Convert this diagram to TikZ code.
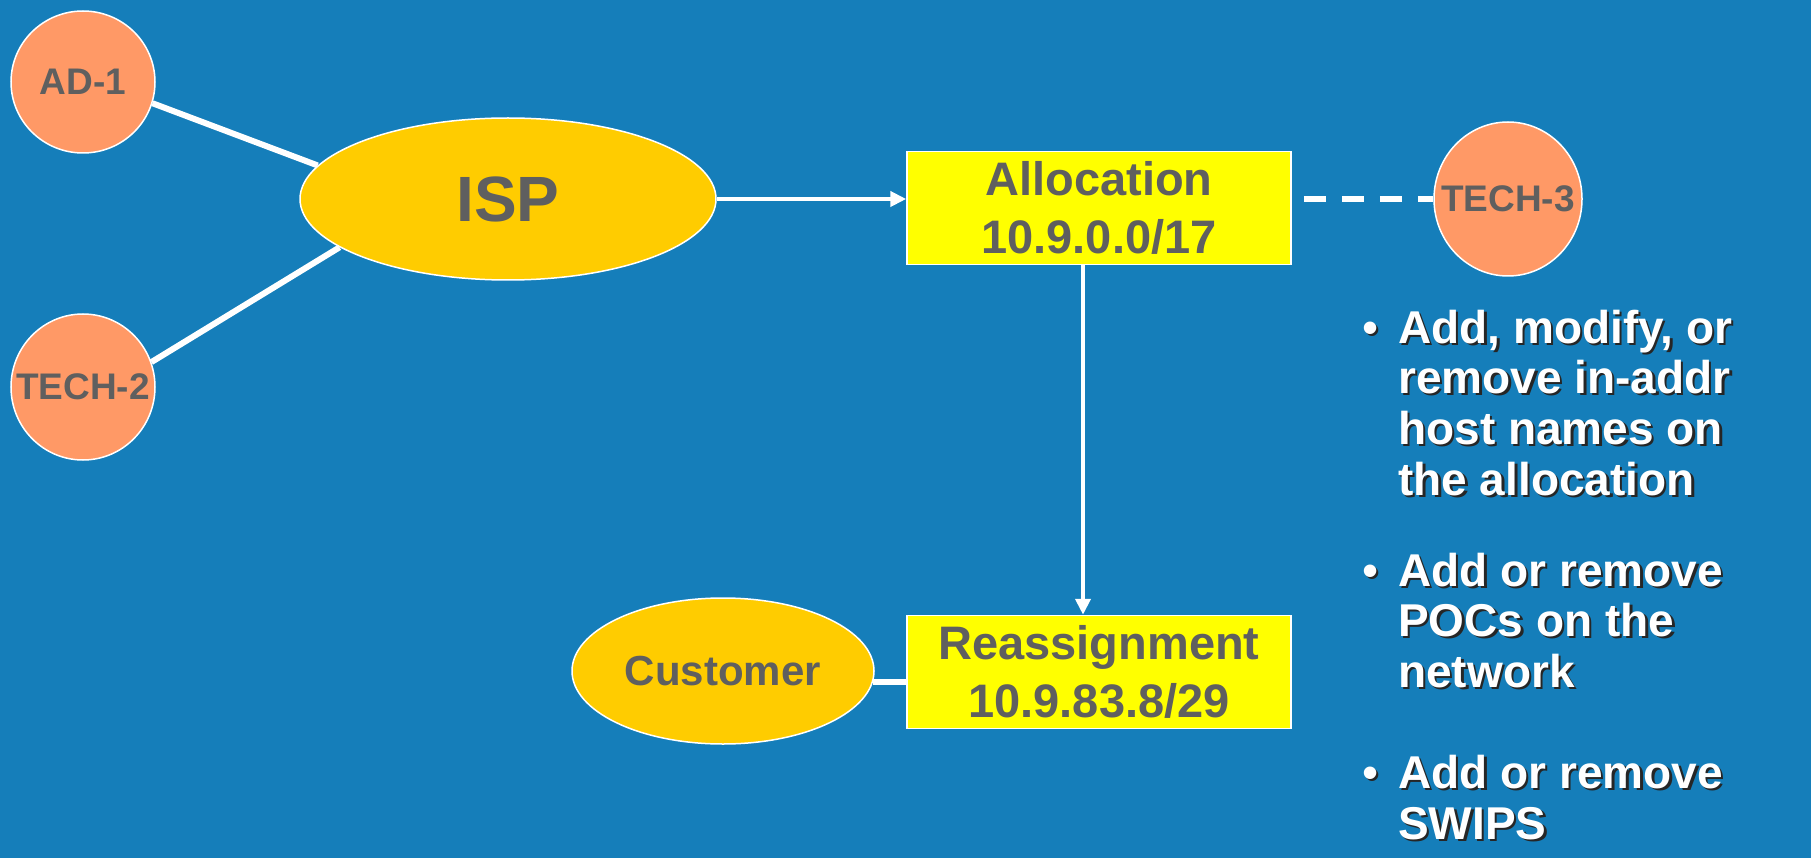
\documentclass[tikz,border=0pt]{standalone}
\usepackage{fontspec}
\setmainfont{Liberation Sans}
\usetikzlibrary{shapes.geometric,arrows.meta}
\definecolor{bgblue}{RGB}{21,126,186}
\definecolor{salmon}{RGB}{255,153,102}
\definecolor{gold}{RGB}{255,204,0}
\definecolor{yel}{RGB}{255,255,0}
\definecolor{txtgray}{RGB}{95,95,95}
\newcommand{\zw}[1]{\makebox[0pt][c]{#1}}
\begin{document}
\begin{tikzpicture}[x=1pt,y=-1pt,
  person/.style={ellipse, draw=white, line width=1.5pt, fill=salmon, inner sep=0pt,
    text=txtgray, font=\fontsize{37}{40}\selectfont\bfseries},
  org/.style={ellipse, draw=white, line width=1.5pt, fill=gold, inner sep=0pt, text=txtgray},
  netbox/.style={rectangle, draw=white, line width=1.5pt, fill=yel, inner sep=0pt,
    minimum width=384pt, minimum height=113pt, text=txtgray, align=center,
    font=\fontsize{47}{58}\selectfont\bfseries},
  link/.style={draw=white, line width=6pt},
  arr/.style={draw=white, line width=4.5pt, -{Triangle[length=16pt,width=15pt]}},
  bul/.style={anchor=base west, inner sep=0pt, text=white, font=\fontsize{46}{51}\selectfont\bfseries},
  bulsh/.style={bul, text=black!85},
  dot/.style={anchor=base west, inner sep=0pt, text=white, font=\fontsize{46}{51}\selectfont},
  dotsh/.style={dot, text=black!85},
]
\fill[bgblue] (0,0) rectangle (1811,858);
\useasboundingbox (0,0) rectangle (1811,858);

\node[person, minimum width=144pt, minimum height=142pt] (ad1) at (83,82) {\zw{AD-1}};
\node[person, minimum width=144pt, minimum height=146pt] (tech2) at (83,387) {\zw{TECH-2}};
\node[org, minimum width=416pt, minimum height=162pt, font=\fontsize{64}{70}\selectfont\bfseries] (isp) at (508,199) {\zw{ISP}};
\node[netbox] (alloc) at (1099,208) {Allocation\\10.9.0.0/17};
\node[person, minimum width=148pt, minimum height=154pt] (tech3) at (1508,199) {\zw{TECH-3}};
\node[netbox] (reas) at (1099,672) {Reassignment\\10.9.83.8/29};
\node[org, minimum width=302pt, minimum height=146pt, font=\fontsize{42}{46}\selectfont\bfseries] (cust) at (723,671) {\zw{Customer}};

\draw[link] (ad1.-17) -- (isp.170);
\draw[link] (tech2.20) -- (isp.-164);
\draw[arr] (isp.east) -- (isp.east -| alloc.west);
\draw[link, dash pattern=on 22pt off 16pt] ([xshift=12pt]alloc.east |- tech3.center) -- (tech3.west);
\coordinate (vx) at (1083,0);
\draw[arr] (alloc.south -| vx) -- (reas.north -| vx);
\draw[link] (cust.-4) -- (cust.-4 -| reas.west);

\foreach \y [count=\i] in {343,586,788}{
  \node[dotsh] (ds\i) at (1364.5,\y+2.5) {•};
  \node[dot] (d\i) at (1362,\y) {•};
}
\foreach \t/\y [count=\i] in {{Add, modify, or}/343, {remove in-addr}/393, {host names on}/444,
  {the allocation}/495, {Add or remove}/586, {POCs on the}/636, {network}/687,
  {Add or remove}/788, {SWIPS}/839}{
  \node[bulsh] (ls\i) at (1400.5,\y+2.5) {\t};
  \node[bul] (l\i) at (1398,\y) {\t};
}
\end{tikzpicture}
\end{document}
